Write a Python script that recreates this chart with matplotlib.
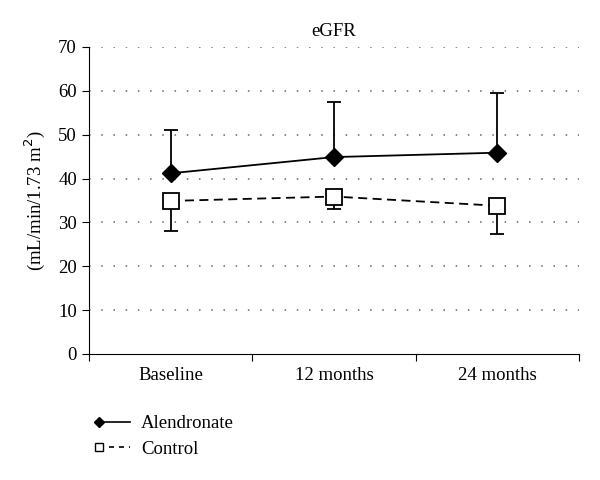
import numpy as np
import matplotlib.pyplot as plt
from matplotlib.lines import Line2D
from matplotlib.legend_handler import HandlerLine2D

plt.rcParams['font.family'] = ['Liberation Serif', 'DejaVu Serif']

categories = ['Baseline', '12 months', '24 months']
alendronate = [41.2, 44.9, 45.9]
alendronate_sd = [9.9, 12.5, 13.6]
control = [34.9, 35.9, 33.8]
control_sd = [6.8, 2.9, 6.4]


# legend handle with the marker on the left end of the line
class LeftMarker(HandlerLine2D):
    def get_xdata(self, legend, xdescent, ydescent, width, height, fontsize):
        xdata = np.array([-xdescent + 0.1 * width, -xdescent + width])
        return xdata, xdata[:1]

    def create_artists(self, *args, **kwargs):
        artists = super().create_artists(*args, **kwargs)
        for a in artists:
            a.set_markevery([0])
        return artists


fig = plt.figure(figsize=(6, 4.8), dpi=100)
ax = fig.add_axes([0.148, 0.2625, 0.817, 0.6396])
x = np.arange(len(categories))

ax.errorbar(x, alendronate, yerr=[np.zeros(3), alendronate_sd], color='black',
            marker='D', markersize=9, linewidth=1.3, elinewidth=1.3, capsize=5,
            capthick=1.3, zorder=3)
ax.errorbar(x, control, yerr=[control_sd, np.zeros(3)], color='black',
            linestyle=(0, (5, 3)), marker='s', markersize=11, markerfacecolor='white',
            markeredgewidth=1.3, linewidth=1.3, elinewidth=1.3, capsize=5,
            capthick=1.3, zorder=3)

ax.set_xlim(-0.5, 2.5)
ax.set_ylim(0, 70)
ax.set_yticks(range(0, 71, 10))
ax.set_xticks([-0.5, 0.5, 1.5, 2.5])
ax.set_xticklabels([])
ax.set_xticks(x, minor=True)
ax.set_xticklabels(categories, minor=True)
ax.tick_params(axis='x', which='minor', length=0, pad=9, labelsize=13.5)
ax.tick_params(axis='x', which='major', length=5, direction='out')
ax.tick_params(axis='y', length=5, labelsize=13.5)

for v in range(10, 71, 10):
    ax.axhline(v, color='#666666', linestyle=(0, (1, 7)), linewidth=1.1, zorder=1)

for s in ['top', 'right']:
    ax.spines[s].set_visible(False)

ax.set_ylabel('(mL/min/1.73 m$^2$)', fontsize=13.5, labelpad=8)
ax.set_title('eGFR', fontsize=13.5, pad=8)

handles = [
    Line2D([], [], color='black', marker='D', markersize=5.5, linewidth=1.2),
    Line2D([], [], color='black', marker='s', markersize=6, markerfacecolor='white',
           linestyle=(0, (3, 3)), linewidth=1.2),
]
ax.legend(handles, ['Alendronate', 'Control'], loc='upper left',
          bbox_to_anchor=(0.16, 0.135), bbox_transform=fig.transFigure,
          frameon=False, fontsize=13.5, handlelength=1.8,
          labelspacing=0.45, handletextpad=0.6, borderpad=0, borderaxespad=0,
          handler_map={Line2D: LeftMarker(numpoints=2)})

fig.savefig('out.png', dpi=100)
